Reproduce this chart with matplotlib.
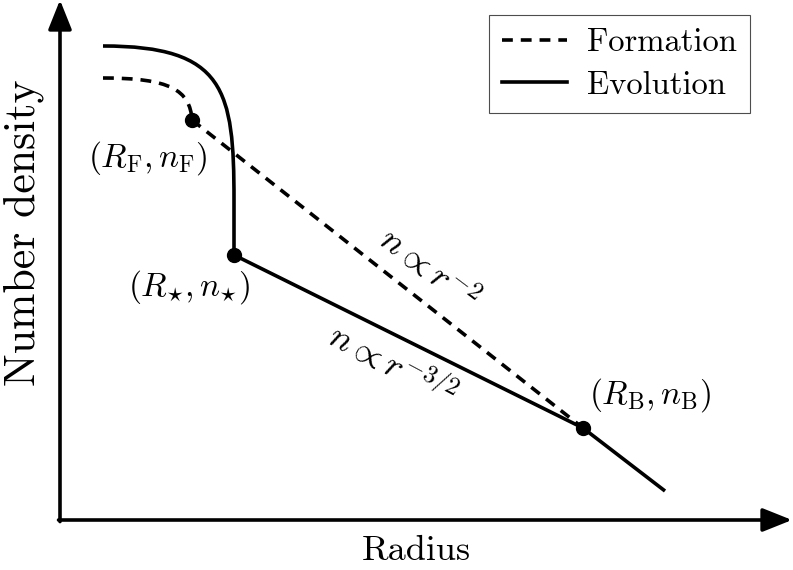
import matplotlib
matplotlib.use("Agg")
import matplotlib.pyplot as plt
from matplotlib.path import Path
from matplotlib.patches import PathPatch
from matplotlib.lines import Line2D

plt.rcParams['mathtext.fontset'] = 'cm'
plt.rcParams['font.family'] = ['cmr10', 'DejaVu Serif']
plt.rcParams['axes.formatter.use_mathtext'] = True

# schematic values: log radius (x) and log number density (y), arbitrary units
# evolution profile: smooth core (bezier control points) then power-law segments
evo_core_x = [0.43, 1.65, 1.74, 1.74]
evo_core_y = [4.74, 4.74, 4.30, 3.20]
evo_line_x = [1.74, 1.74, 5.23, 6.05]
evo_line_y = [3.20, 2.65, 0.92, 0.29]

# formation profile
form_core_x = [0.43, 1.10, 1.30, 1.32]
form_core_y = [4.42, 4.42, 4.30, 4.00]
form_line_x = [1.32, 5.23]
form_line_y = [4.00, 0.92]

# marked points
pt_x = [1.32, 1.74, 5.23]
pt_y = [4.00, 2.65, 0.92]
pt_labels = [r'$(R_{\mathrm{F}}, n_{\mathrm{F}})$',
             r'$(R_{\star}, n_{\star})$',
             r'$(R_{\mathrm{B}}, n_{\mathrm{B}})$']
lab_x = [0.88, 1.29, 5.90]
lab_y = [3.62, 2.33, 1.25]

lw = 2.6
dash = (0, (3.0, 2.2))

fig = plt.figure(figsize=(7.93, 5.70), dpi=100)
ax = fig.add_axes([60 / 793, 50 / 570, 732 / 793, 520 / 570])
ax.set_xlim(0, 7.32)
ax.set_ylim(0, 5.20)
for s in ax.spines.values():
    s.set_visible(False)
ax.set_xticks([])
ax.set_yticks([])

# arrow axes
arrow = dict(arrowstyle='-|>,head_length=0.6,head_width=0.24', lw=2.6,
             color='k', mutation_scale=30, shrinkA=0, shrinkB=0)
ax.annotate('', xy=(1, 0), xytext=(-0.002, 0), xycoords='axes fraction',
            arrowprops=arrow, annotation_clip=False)
ax.annotate('', xy=(0, 1), xytext=(0, -0.003), xycoords='axes fraction',
            arrowprops=arrow, annotation_clip=False)

codes = [Path.MOVETO, Path.CURVE4, Path.CURVE4, Path.CURVE4]
ax.add_patch(PathPatch(Path(list(zip(evo_core_x, evo_core_y)), codes),
                       fill=False, lw=lw, ec='k', capstyle='butt'))
ax.plot(evo_line_x, evo_line_y, color='k', lw=lw, solid_capstyle='butt')

ax.add_patch(PathPatch(Path(list(zip(form_core_x, form_core_y)), codes),
                       fill=False, lw=lw, ec='k', ls=dash, capstyle='butt'))
ax.plot(form_line_x, form_line_y, color='k', lw=lw, ls=dash)

ax.plot(pt_x, pt_y, 'o', color='k', ms=10, zorder=5)
for lx, ly, t in zip(lab_x, lab_y, pt_labels):
    ax.text(lx, ly, t, fontsize=24, ha='center', va='center')

ax.text(3.68, 2.50, r'$n \propto r^{-2}$', fontsize=26, rotation=-37,
        ha='center', va='center', rotation_mode='anchor')
ax.text(3.33, 1.55, r'$n \propto r^{-3/2}$', fontsize=26, rotation=-28,
        ha='center', va='center', rotation_mode='anchor')

ax.text(3.56, -0.40, 'Radius', fontsize=26, ha='center', va='baseline')
ax.text(-0.36, 2.87, 'Number density', fontsize=31.5, ha='center',
        va='center', rotation=90)

handles = [Line2D([], [], color='k', lw=lw, ls=dash),
           Line2D([], [], color='k', lw=lw)]
leg = ax.legend(handles, ['Formation', 'Evolution'], loc='upper right',
                bbox_to_anchor=(690 / 732, 1 - 15 / 520), fontsize=23.5,
                fancybox=False, framealpha=1, edgecolor='0.3',
                handlelength=2.0, borderpad=0.4, labelspacing=0.42,
                handletextpad=0.6, borderaxespad=0)
leg.get_frame().set_linewidth(0.8)

fig.savefig('out.png', dpi=100)
